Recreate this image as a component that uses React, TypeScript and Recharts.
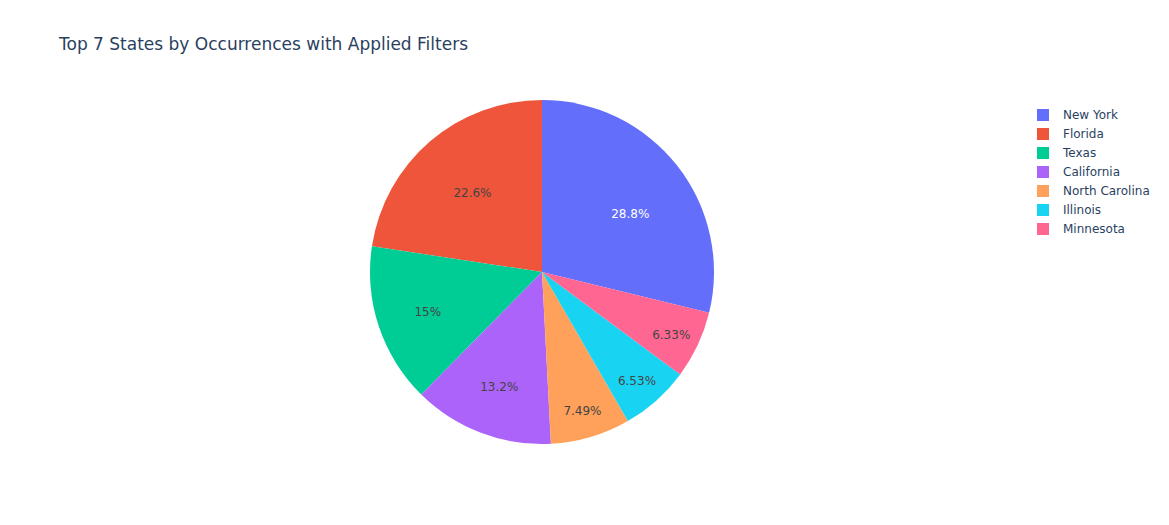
import React from "react";
import { PieChart, Pie, Cell, Legend } from "recharts";

const states = ["New York", "Florida", "Texas", "California", "North Carolina", "Illinois", "Minnesota"];
const shares = [28.8, 22.6, 15, 13.2, 7.49, 6.53, 6.33];
const colors = ["#636efa", "#EF553B", "#00cc96", "#ab63fa", "#FFA15A", "#19d3f3", "#FF6692"];
const title = "Top 7 States by Occurrences with Applied Filters";

const data = states.map((name, i) => ({ name, value: shares[i] }));
const total = shares.reduce((a, b) => a + b, 0);
const startAngle = 90 - (360 * shares[0]) / total;

const FONT = '"DejaVu Sans", Verdana, sans-serif';
const RAD = Math.PI / 180;

const renderLabel = (props: any) => {
  const { cx, cy, midAngle, outerRadius, percent, index, value } = props;
  const frac = percent > 0.2 ? 0.62 : percent > 0.1 ? 0.7 : 0.83;
  const ang = percent > 0.25 ? midAngle - 4 : midAngle;
  const r = outerRadius * frac;
  const x = cx + r * Math.cos(-ang * RAD);
  const y = cy + r * Math.sin(-ang * RAD) + 2;
  return (
    <text
      x={x}
      y={y}
      textAnchor="middle"
      dominantBaseline="central"
      fontFamily={FONT}
      fontSize={12}
      fill={index === 0 ? "#ffffff" : "#444444"}
    >
      {`${value}%`}
    </text>
  );
};

const renderLegend = () => (
  <div style={{ fontFamily: FONT, fontSize: 12, color: "#2a3f5f" }}>
    {states.map((s, i) => (
      <div key={s} style={{ display: "flex", alignItems: "center", height: 19 }}>
        <div style={{ width: 12, height: 12, background: colors[i], marginRight: 14 }} />
        <span>{s}</span>
      </div>
    ))}
  </div>
);

export default function App() {
  return (
    <div style={{ position: "absolute", left: 0, top: 0, width: 1169, height: 525, background: "#fff" }}>
      <div
        style={{
          position: "absolute",
          left: 59,
          top: 36,
          fontFamily: FONT,
          fontSize: 17,
          lineHeight: "17px",
          color: "#2a3f5f",
          whiteSpace: "nowrap",
        }}
      >
        {title}
      </div>
      <PieChart width={1169} height={525} margin={{ top: 0, right: 0, bottom: 0, left: 0 }}>
        <Pie
          data={data}
          dataKey="value"
          nameKey="name"
          cx={542}
          cy={272}
          outerRadius={172}
          startAngle={startAngle}
          endAngle={startAngle + 360}
          label={renderLabel}
          labelLine={false}
          stroke="none"
          isAnimationActive={false}
        >
          {data.map((d, i) => (
            <Cell key={d.name} fill={colors[i]} />
          ))}
        </Pie>
        <Legend
          content={renderLegend}
          wrapperStyle={{ position: "absolute", left: 1037, top: 105, width: 130 }}
        />
      </PieChart>
    </div>
  );
}
